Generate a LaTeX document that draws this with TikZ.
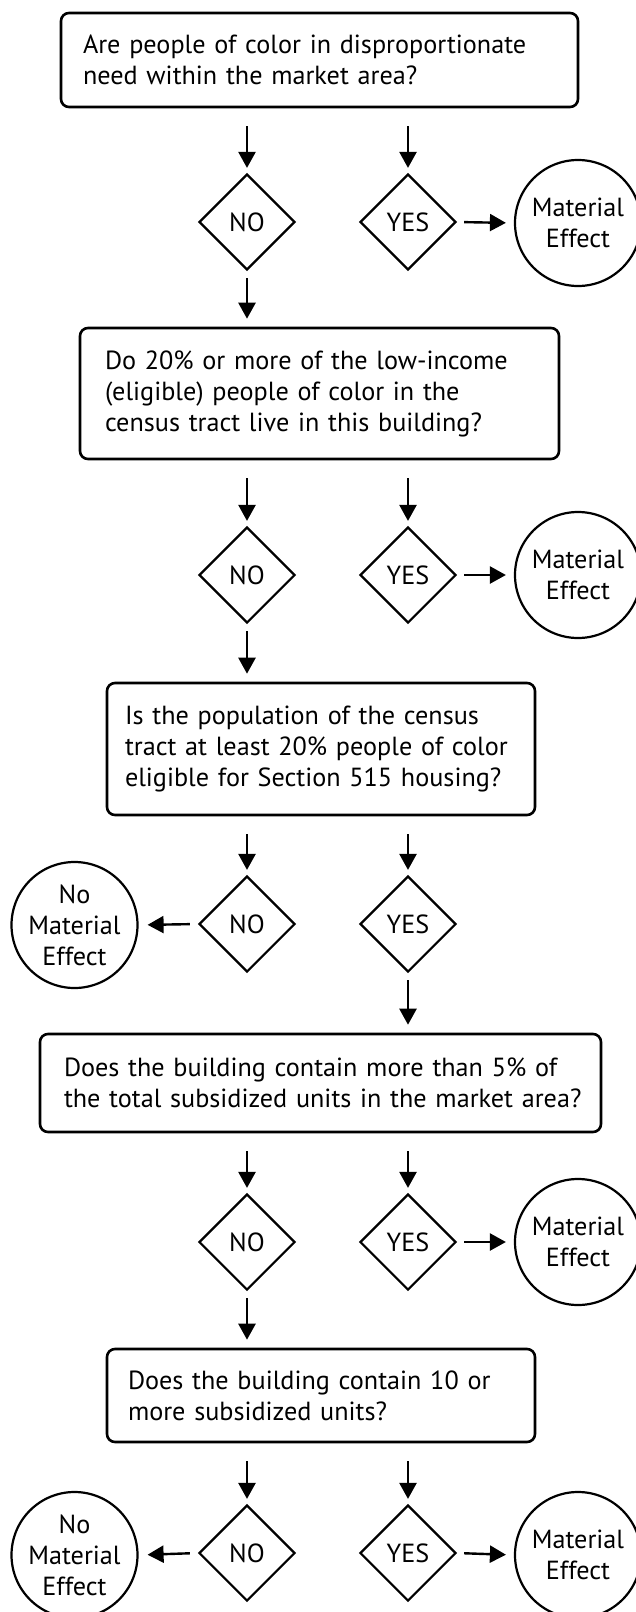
\documentclass[tikz,border=0pt]{standalone}
\usepackage{fontspec}
\setmainfont{PT Sans}
\usetikzlibrary{shapes.geometric,arrows.meta}
\newcommand\myfs{\fontsize{26.2}{31}\selectfont}
\begin{document}
\begin{tikzpicture}[x=1pt,y=-1pt,
  qbox/.style={draw, line width=2.6pt, rounded corners=8pt, align=left, inner ysep=0pt, font=\myfs},
  dia/.style={draw, diamond, line width=2.2pt, minimum width=96pt, minimum height=96pt, inner sep=0pt, font=\myfs},
  res/.style={draw, circle, line width=2.2pt, minimum size=126pt, inner sep=0pt, align=center, font=\myfs},
  arr/.style={line width=2.4pt, -{Triangle[length=16pt,width=17pt]}}
]
\useasboundingbox (0,0) rectangle (636,1612);
\fill[white] (0,0) rectangle (636,1612);

% boxes
\node[qbox, inner xsep=22pt, text width=473pt, minimum height=94pt] (b1) at (319.5,60)
  {\mbox{Are people of color in disproportionate}\\\mbox{need within the market area?}};
\node[qbox, inner xsep=25pt, text width=429pt, minimum height=131pt] (b2) at (319.5,393.5)
  {\mbox{Do 20\% or more of the low-income}\\\mbox{(eligible) people of color in the}\\\mbox{census tract live in this building?}};
\node[qbox, inner xsep=18pt, text width=392pt, minimum height=132pt] (b3) at (321,749)
  {\mbox{Is the population of the census}\\\mbox{tract at least 20\% people of color}\\\mbox{eligible for Section 515 housing?}};
\node[qbox, inner xsep=24pt, text width=513pt, minimum height=98pt] (b4) at (320.5,1083)
  {\mbox{Does the building contain more than 5\% of}\\\mbox{the total subsidized units in the market area?}};
\node[qbox, inner xsep=21pt, text width=386pt, minimum height=93pt] (b5) at (321,1395.5)
  {\mbox{Does the building contain 10 or}\\\mbox{more subsidized units?}};

% diamonds
\node[dia] (n1) at (247,222) {NO};
\node[dia] (y1) at (408,222) {YES};
\node[dia] (n2) at (247,575) {NO};
\node[dia] (y2) at (408,575) {YES};
\node[dia] (n3) at (247,924) {NO};
\node[dia] (y3) at (408,924) {YES};
\node[dia] (n4) at (247,1242) {NO};
\node[dia] (y4) at (408,1242) {YES};
\node[dia] (n5) at (247,1553) {NO};
\node[dia] (y5) at (408,1553) {YES};

% result circles
\node[res] (c1) at (578,223) {Material\\Effect};
\node[res] (c2) at (578,575) {Material\\Effect};
\node[res] (c3) at (74.5,925) {No\\Material\\Effect};
\node[res] (c4) at (578,1242) {Material\\Effect};
\node[res] (c5l) at (74.5,1555) {No\\Material\\Effect};
\node[res] (c5r) at (578,1555) {Material\\Effect};

% arrows box -> diamonds
\foreach \b/\n/\y in {b1/n1/y1,b2/n2/y2,b3/n3/y3,b4/n4/y4,b5/n5/y5}{
  \draw[arr, shorten <=18pt, shorten >=5pt] (\n |- \b.south) -- (\n.north);
  \draw[arr, shorten <=18pt, shorten >=5pt] (\y |- \b.south) -- (\y.north);
}
% yes -> material effect
\foreach \y/\c in {y1/c1,y2/c2,y4/c4,y5/c5r}{
  \draw[arr, shorten <=7pt, shorten >=8pt] (\y.east) -- (\c.west);
}
% no -> no material effect
\foreach \n/\c in {n3/c3,n5/c5l}{
  \draw[arr, shorten <=8pt, shorten >=9pt] (\n.west) -- (\c.east);
}
% continuations
\draw[arr, shorten <=7pt, shorten >=8pt] (n1.south) -- (n1 |- b2.north);
\draw[arr, shorten <=7pt, shorten >=8pt] (n2.south) -- (n2 |- b3.north);
\draw[arr, shorten <=7pt, shorten >=8pt] (y3.south) -- (y3 |- b4.north);
\draw[arr, shorten <=7pt, shorten >=8pt] (n4.south) -- (n4 |- b5.north);
\end{tikzpicture}
\end{document}
